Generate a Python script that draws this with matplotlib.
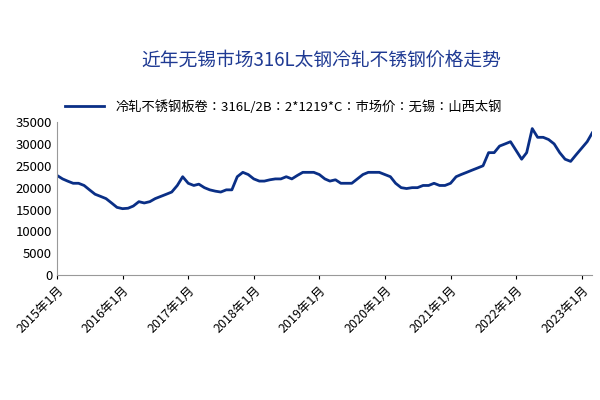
import matplotlib.pyplot as plt
import pandas as pd

plt.rcParams["font.family"] = ["Noto Sans CJK SC", "Noto Sans CJK JP", "Noto Sans CJK TC", "DejaVu Sans"]

# 月度价格估计（元/吨）
months = pd.date_range("2015-01-01", "2023-03-01", freq="MS")
prices = [
    22800, 22000, 21500, 21000, 21000, 20500, 19500, 18500, 18000, 17500, 16500, 15500,
    15200, 15300, 15800, 16800, 16500, 16800, 17500, 18000, 18500, 19000, 20500, 22500,
    21000, 20500, 20800, 20000, 19500, 19200, 19000, 19500, 19500, 22500, 23500, 23000,
    22000, 21500, 21500, 21800, 22000, 22000, 22500, 22000, 22800, 23500, 23500, 23500,
    23000, 22000, 21500, 21800, 21000, 21000, 21000, 22000, 23000, 23500, 23500, 23500,
    23000, 22500, 21000, 20000, 19800, 20000, 20000, 20500, 20500, 21000, 20500, 20500,
    21000, 22500, 23000, 23500, 24000, 24500, 25000, 28000, 28000, 29500, 30000, 30500,
    28500, 26500, 28000, 33500, 31500, 31500, 31000, 30000, 28000, 26500, 26000, 27500,
    29000, 30500, 32500,
]

fig = plt.figure(figsize=(6, 4), dpi=100)
ax = fig.add_axes([0.095, 0.312, 0.892, 0.383])
ax.plot(months, prices, color="#0a2f86", lw=2.0,
        label="冷轧不锈钢板卷：316L/2B：2*1219*C：市场价：无锡：山西太钢")
ax.set_ylim(0, 35000)
ax.set_yticks(range(0, 35001, 5000))
ax.set_xlim(months[0], months[-1])
ticks = pd.date_range("2015-01-01", "2023-01-01", freq="YS")
ax.set_xticks(ticks)
ax.set_xticklabels([f"{d.year}年1月" for d in ticks], rotation=45, ha="right",
                   rotation_mode="anchor", fontsize=9)
ax.tick_params(axis="y", labelsize=9.5, length=0)
ax.tick_params(axis="x", length=3)
for s in ["top", "right"]:
    ax.spines[s].set_visible(False)
ax.spines["left"].set_color("#999999")
ax.spines["bottom"].set_color("#999999")
fig.text(0.535, 0.835, "近年无锡市场316L太钢冷轧不锈钢价格走势", ha="center",
         fontsize=13.5, color="#1f3a93")
ax.legend(loc="lower left", bbox_to_anchor=(0.0, 1.0), frameon=False, fontsize=9.5,
          handlelength=3, borderaxespad=0.2)
fig.savefig("out.png")
